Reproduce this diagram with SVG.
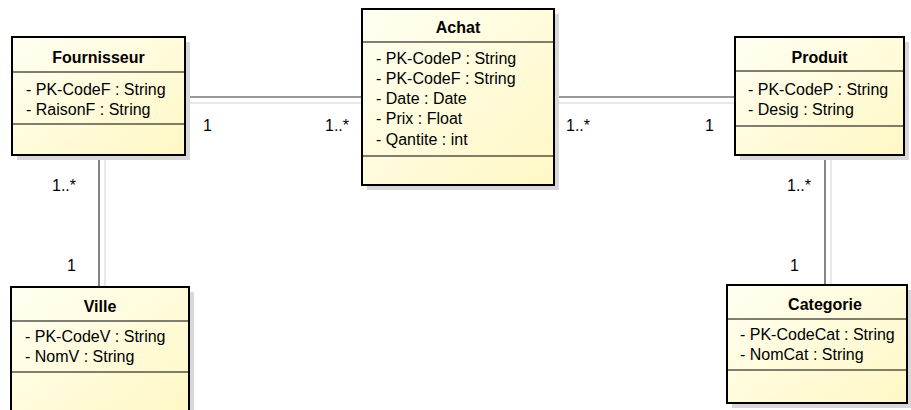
<svg xmlns="http://www.w3.org/2000/svg" width="911" height="410" viewBox="0 0 911 410">
<defs>
<linearGradient id="fill" x1="0" y1="0" x2="1" y2="1">
<stop offset="0" stop-color="#fffff2"/>
<stop offset="1" stop-color="#fff7c4"/>
</linearGradient>
<style>
.box{fill:url(#fill);stroke:#000;stroke-width:2}
.shadow{fill:#d8d8d8}
.sep{stroke:#000;stroke-width:1.2}
.t{font-family:"Liberation Sans",Arial,sans-serif;font-size:16px;fill:#000}
.h{font-weight:bold;text-anchor:middle}
.a{font-family:"Liberation Sans",Arial,sans-serif;font-size:16px;fill:#000}
.line{stroke:#333;stroke-width:1.2;fill:none}
.lineS{stroke:#e2e2e2;stroke-width:1.5;fill:none}
</style>
</defs>
<g id="connectors">
<line class="lineS" x1="185" y1="103" x2="362" y2="103"/>
<line class="line" x1="185" y1="97" x2="362" y2="97"/>
<line class="lineS" x1="554" y1="103" x2="735" y2="103"/>
<line class="line" x1="554" y1="97" x2="735" y2="97"/>
<line class="lineS" x1="105" y1="155" x2="105" y2="287"/>
<line class="line" x1="99" y1="155" x2="99" y2="287"/>
<line class="lineS" x1="831" y1="155" x2="831" y2="285"/>
<line class="line" x1="825" y1="155" x2="825" y2="285"/>
<text class="a" x="203" y="131">1</text>
<text class="a" x="325" y="131">1..*</text>
<text class="a" x="566" y="131">1..*</text>
<text class="a" x="705" y="131">1</text>
<text class="a" x="52" y="191">1..*</text>
<text class="a" x="67" y="271">1</text>
<text class="a" x="787" y="191">1..*</text>
<text class="a" x="790" y="271">1</text>
</g>
<g id="Fournisseur">
<rect class="shadow" x="17" y="42" width="173" height="118"/>
<rect class="box" x="12" y="37" width="173" height="118"/>
<line class="sep" x1="12" y1="72" x2="185" y2="72"/>
<line class="sep" x1="12" y1="124" x2="185" y2="124"/>
<text class="t h" x="98.5" y="63">Fournisseur</text>
<text class="t" x="26" y="95">- PK-CodeF : String</text>
<text class="t" x="26" y="115">- RaisonF : String</text>
</g>
<g id="Achat">
<rect class="shadow" x="367" y="14" width="192" height="176"/>
<rect class="box" x="362" y="9" width="192" height="176"/>
<line class="sep" x1="362" y1="42" x2="554" y2="42"/>
<line class="sep" x1="362" y1="156" x2="554" y2="156"/>
<text class="t h" x="458" y="33">Achat</text>
<text class="t" x="376" y="64">- PK-CodeP : String</text>
<text class="t" x="376" y="84">- PK-CodeF : String</text>
<text class="t" x="376" y="104">- Date : Date</text>
<text class="t" x="376" y="124">- Prix : Float</text>
<text class="t" x="376" y="145">- Qantite : int</text>
</g>
<g id="Produit">
<rect class="shadow" x="740" y="42" width="169" height="118"/>
<rect class="box" x="735" y="37" width="169" height="118"/>
<line class="sep" x1="735" y1="71" x2="904" y2="71"/>
<line class="sep" x1="735" y1="126" x2="904" y2="126"/>
<text class="t h" x="819.5" y="63">Produit</text>
<text class="t" x="748" y="95">- PK-CodeP : String</text>
<text class="t" x="748" y="115">- Desig : String</text>
</g>
<g id="Ville">
<rect class="shadow" x="16" y="292" width="178" height="130"/>
<rect class="box" x="11" y="287" width="178" height="130"/>
<line class="sep" x1="11" y1="321" x2="189" y2="321"/>
<line class="sep" x1="11" y1="372" x2="189" y2="372"/>
<text class="t h" x="100" y="312">Ville</text>
<text class="t" x="25" y="342">- PK-CodeV : String</text>
<text class="t" x="25" y="362">- NomV : String</text>
</g>
<g id="Categorie">
<rect class="shadow" x="732" y="290" width="180" height="118"/>
<rect class="box" x="727" y="285" width="180" height="118"/>
<line class="sep" x1="727" y1="319" x2="907" y2="319"/>
<line class="sep" x1="727" y1="370" x2="907" y2="370"/>
<text class="t h" x="825" y="310">Categorie</text>
<text class="t" x="740" y="340">- PK-CodeCat : String</text>
<text class="t" x="740" y="360">- NomCat : String</text>
</g>
</svg>
